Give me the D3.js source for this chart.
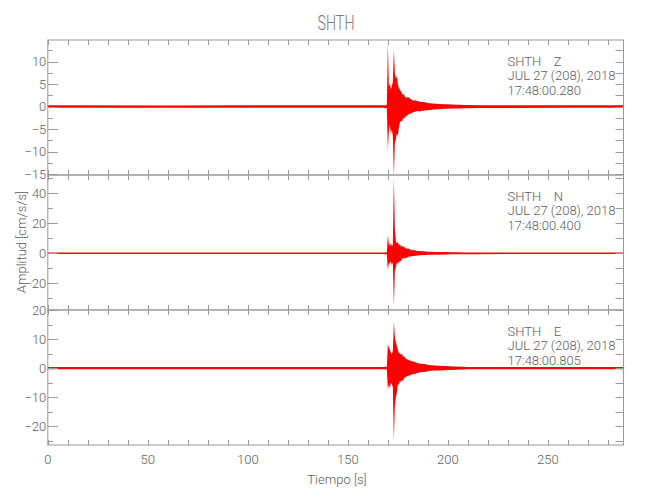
<!DOCTYPE html>
<html>
<head>
<meta charset="utf-8">
<script src="https://cdn.jsdelivr.net/npm/d3@7"></script>
<style>
  html, body { margin: 0; padding: 0; background: #fff; }
  svg { display: block; }
  text { font-family: "Roboto", "DejaVu Sans Condensed", sans-serif; font-weight: 300; }
</style>
</head>
<body>
<svg id="chart" width="650" height="500"></svg>
<script>
// ---------------- data ----------------
const stationName = "SHTH";
const components = ["Z", "N", "E"];
const dateLabel = "JUL 27 (208), 2018";
const startTimes = ["17:48:00.280", "17:48:00.400", "17:48:00.805"];
const xTitle = "Tiempo [s]";
const yTitle = "Amplitud [cm/s/s]";
const xDomain = [0, 287.8];
const xTickLabels = [0, 50, 100, 150, 200, 250];
const yDomainZ = [-15.23, 14.83];
const yDomainN = [-37.8, 52.2];
const yDomainE = [-26.43, 20];
const yTicksZ = [-15, -10, -5, 0, 5, 10];
const yTicksN = [-20, 0, 20, 40];
const yTicksE = [-20, -10, 0, 10, 20];
const yMinorStep = [2.5, 10, 5];

// envelope (max / min per time bin) of each trace
const timeKnots = [0, 60, 120, 167.5, 168, 168.5, 169, 169.5, 170, 170.5, 171, 171.5, 172, 172.5,
  173, 173.5, 174, 174.5, 175, 175.5, 176, 176.5, 177, 177.5, 178, 178.5, 179, 179.5, 180,
  181, 182, 183, 184, 185, 186, 187, 188, 189, 190,
  192, 194, 196, 198, 200, 202, 204, 206, 208, 210,
  215, 230, 260, 287.8];

const zHi = [0.28, 0.26, 0.28, 0.28, 0.3, 0.28, 0.32, 0.4, 14.2, 4.5, 5.2, 3.8, 4.6, 5.5,
  12.7, 7.5, 6.2, 6.8, 5.0, 4.2, 3.8, 3.4, 3.0, 2.6, 2.9, 2.2, 2.1, 1.9, 2.2,
  1.8, 1.5, 1.3, 1.4, 1.2, 1.1, 1.0, 1.0, 0.9, 0.8,
  0.7, 0.65, 0.6, 0.55, 0.5, 0.45, 0.42, 0.4, 0.36, 0.34,
  0.32, 0.3, 0.28, 0.28];
const zLo = [-0.28, -0.26, -0.28, -0.28, -0.28, -0.3, -0.32, -0.4, -9.7, -5.5, -4.0, -6.0, -5.2, -6.5,
  -15.5, -8.0, -7.4, -6.0, -6.5, -4.8, -3.6, -3.2, -3.3, -2.8, -2.4, -2.6, -2.0, -2.2, -1.8,
  -1.6, -1.4, -1.2, -1.1, -1.0, -1.1, -0.9, -0.9, -0.8, -0.8,
  -0.7, -0.6, -0.6, -0.5, -0.5, -0.45, -0.4, -0.4, -0.36, -0.34,
  -0.32, -0.3, -0.28, -0.28];

const nHi = [0.5, 0.5, 0.5, 0.5, 0.55, 0.5, 0.55, 0.7, 12.2, 6.0, 5.0, 6.7, 4.5, 6.0,
  50, 16.7, 8.0, 6.7, 7.5, 5.5, 6.0, 4.8, 4.4, 5.0, 3.8, 4.2, 3.3, 3.0, 3.3,
  2.5, 2.0, 2.2, 1.8, 1.6, 1.5, 1.4, 1.3, 1.2, 1.1,
  1.0, 0.95, 0.9, 0.85, 0.8, 0.75, 0.7, 0.65, 0.6, 0.55,
  0.55, 0.5, 0.5, 0.5];
const nLo = [-0.5, -0.5, -0.5, -0.5, -0.5, -0.55, -0.6, -0.7, -11.1, -7.0, -6.5, -5.5, -7.8, -6.0,
  -35.5, -12.0, -9.0, -6.7, -6.0, -6.7, -5.0, -5.5, -3.8, -3.3, -3.5, -3.0, -3.3, -2.8, -2.5,
  -2.2, -2.0, -1.8, -1.6, -1.5, -1.3, -1.2, -1.2, -1.1, -1.0,
  -1.0, -0.9, -0.9, -0.8, -0.8, -0.7, -0.7, -0.65, -0.6, -0.55,
  -0.55, -0.5, -0.5, -0.5];

const eHi = [0.36, 0.36, 0.36, 0.36, 0.38, 0.36, 0.4, 0.45, 8.2, 7.0, 6.5, 5.2, 4.8, 6.0,
  16, 10.5, 9.0, 7.5, 6.5, 5.0, 5.3, 4.5, 5.0, 4.2, 3.8, 4.0, 3.0, 3.2, 2.9,
  2.6, 2.4, 2.2, 2.0, 1.7, 1.5, 1.5, 1.4, 1.3, 1.1,
  1.0, 0.9, 0.8, 0.75, 0.7, 0.6, 0.55, 0.5, 0.45, 0.42,
  0.4, 0.36, 0.36, 0.36];
const eLo = [-0.36, -0.36, -0.36, -0.36, -0.36, -0.38, -0.4, -0.45, -7.4, -5.5, -7.0, -5.0, -5.5, -6.5,
  -24.8, -13.0, -10.0, -8.5, -5.5, -5.8, -4.5, -4.8, -4.0, -4.5, -3.6, -3.2, -3.0, -2.8, -2.7,
  -2.4, -2.2, -2.0, -1.9, -1.6, -1.5, -1.3, -1.3, -1.2, -1.1,
  -0.9, -0.8, -0.8, -0.7, -0.6, -0.6, -0.55, -0.5, -0.45, -0.42,
  -0.4, -0.36, -0.36, -0.36];

// ---------------- layout ----------------
const W = 650, H = 500;
const left = 47.8, right = 623.5;
const panelTops = [40, 175, 310];
const panelH = 135;
const axisColor = "#9a9a9a";
const textColor = "#5e5e5e";
const traceColor = "#ff0000";

const panels = [
  { comp: components[0], dom: yDomainZ, ticks: yTicksZ, minor: yMinorStep[0], hi: zHi, lo: zLo, start: startTimes[0] },
  { comp: components[1], dom: yDomainN, ticks: yTicksN, minor: yMinorStep[1], hi: nHi, lo: nLo, start: startTimes[1] },
  { comp: components[2], dom: yDomainE, ticks: yTicksE, minor: yMinorStep[2], hi: eHi, lo: eLo, start: startTimes[2] }
];

const svg = d3.select("#chart");
svg.append("rect").attr("width", W).attr("height", H).attr("fill", "#fff");

const x = d3.scaleLinear().domain(xDomain).range([left, right]);
const fmt = d3.format("");

// title
svg.append("text").attr("x", 336).attr("y", 30).attr("text-anchor", "middle")
  .attr("font-size", 21).attr("fill", "#7a7a7a")
  .attr("textLength", 37).attr("lengthAdjust", "spacingAndGlyphs").text(stationName);

const xMinorTicks = d3.range(0, xDomain[1], 10);

panels.forEach((p, i) => {
  const top = panelTops[i], bottom = top + panelH;
  const y = d3.scaleLinear().domain(p.dom).range([bottom, top]);
  const g = svg.append("g");

  // trace (min/max envelope)
  const pts = timeKnots.map((t, k) => ({ t, hi: p.hi[k], lo: p.lo[k] }));
  const area = d3.area().x(d => x(d.t)).y0(d => y(d.lo)).y1(d => y(d.hi));
  g.append("path").attr("d", area(pts)).attr("fill", traceColor);

  // frame
  g.append("rect").attr("x", left).attr("y", top).attr("width", right - left).attr("height", panelH)
    .attr("fill", "none").attr("stroke", axisColor).attr("stroke-width", 1);

  // x ticks (inward, top and bottom)
  xMinorTicks.forEach(t => {
    const xx = Math.round(x(t)) + 0.5;
    g.append("line").attr("x1", xx).attr("x2", xx).attr("y1", top).attr("y2", top + 5).attr("stroke", axisColor);
    g.append("line").attr("x1", xx).attr("x2", xx).attr("y1", bottom).attr("y2", bottom - 5).attr("stroke", axisColor);
  });

  // y minor + major ticks
  const minorVals = d3.range(Math.ceil(p.dom[0] / p.minor) * p.minor, p.dom[1] + 1e-9, p.minor);
  minorVals.forEach(v => {
    const yy = Math.round(y(v)) + 0.5;
    const isMajor = p.ticks.some(t => Math.abs(t - v) < 1e-9);
    g.append("line").attr("x1", left).attr("x2", left + (isMajor ? 10 : 5)).attr("y1", yy).attr("y2", yy).attr("stroke", axisColor);
    g.append("line").attr("x1", right).attr("x2", right - 8).attr("y1", yy).attr("y2", yy).attr("stroke", axisColor);
  });

  // y tick labels
  p.ticks.forEach(v => {
    g.append("text").attr("x", left - 1.5).attr("y", y(v)).attr("dy", "0.36em")
      .attr("text-anchor", "end").attr("font-size", 13).attr("fill", textColor)
      .text(fmt(v));
  });

  // annotation
  const ann = g.append("text").attr("font-size", 13).attr("fill", textColor);
  const lines = [stationName + "\u00a0\u00a0\u00a0\u00a0" + p.comp, dateLabel, p.start];
  lines.forEach((s, k) => {
    ann.append("tspan").attr("x", 507.5).attr("y", top + 25.5 + k * 14.5).text(s);
  });
});

// x tick labels
xTickLabels.forEach(t => {
  svg.append("text").attr("x", x(t)).attr("y", 463.5).attr("text-anchor", "middle")
    .attr("font-size", 13).attr("fill", textColor).text(fmt(t));
});

// axis titles
svg.append("text").attr("x", 337).attr("y", 484).attr("text-anchor", "middle")
  .attr("font-size", 13).attr("fill", textColor).text(xTitle);
svg.append("text").attr("transform", "translate(26,242) rotate(-90)").attr("text-anchor", "middle")
  .attr("font-size", 13).attr("fill", textColor).text(yTitle);
</script>
</body>
</html>
